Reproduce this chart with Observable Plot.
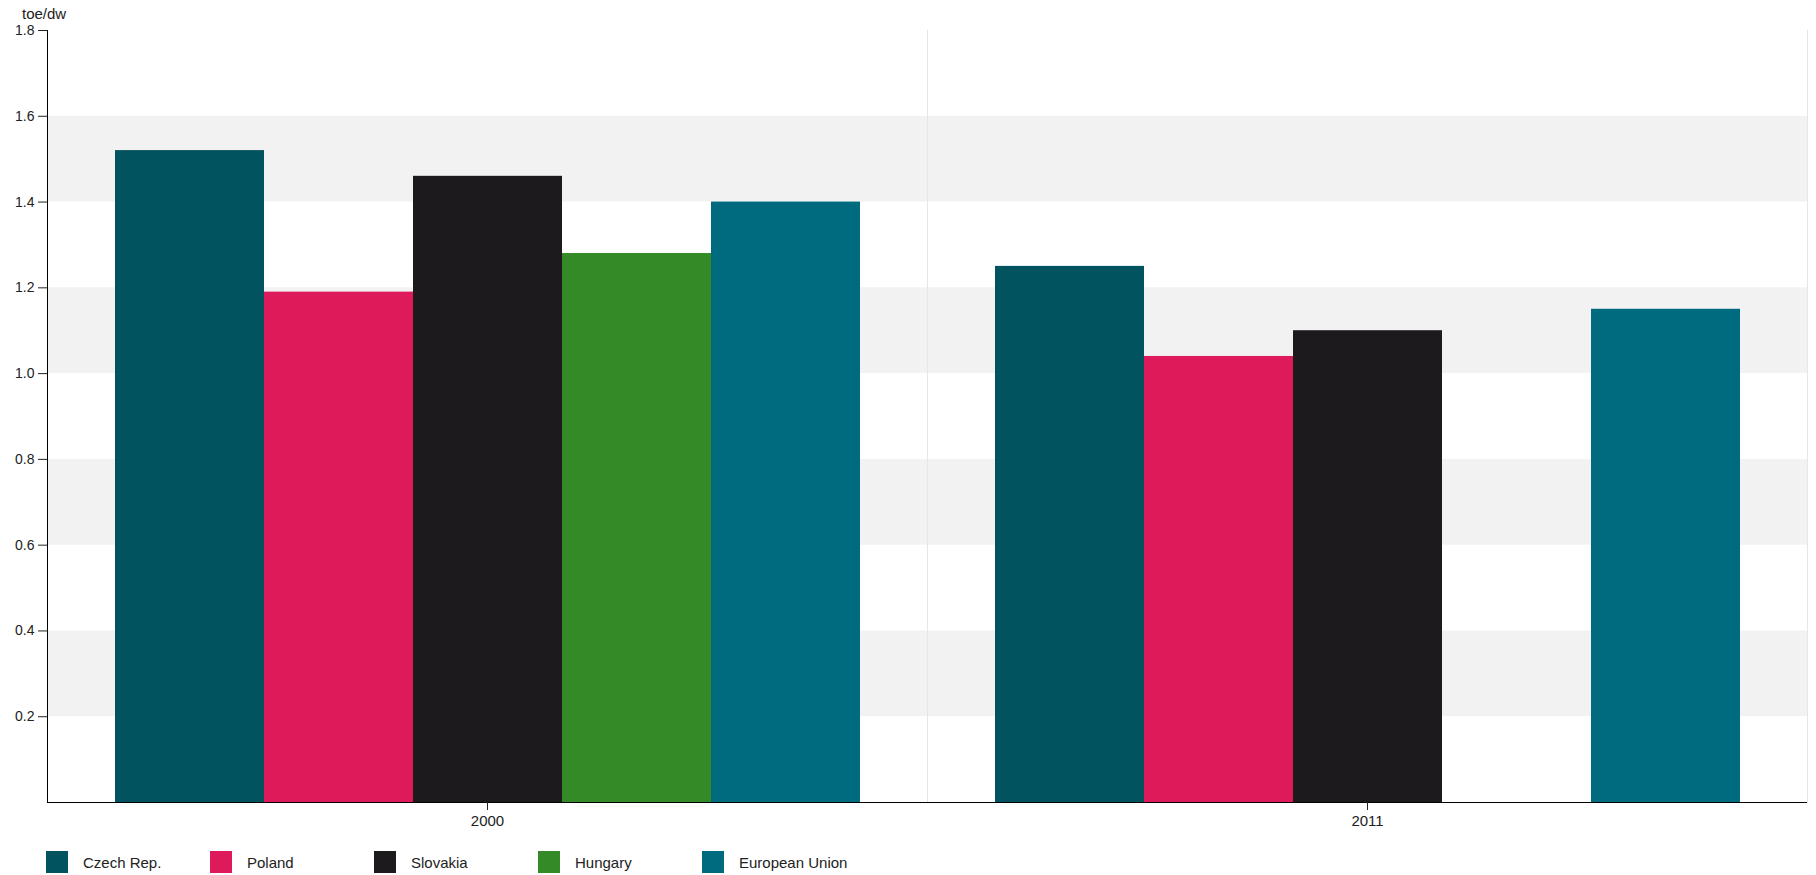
<!DOCTYPE html>
<html>
<head>
<meta charset="utf-8">
<script src="https://cdn.jsdelivr.net/npm/d3@7"></script>
<script src="https://cdn.jsdelivr.net/npm/@observablehq/plot@0.6"></script>
<style>
  html, body { margin: 0; padding: 0; background: #fff; }
  body { width: 1816px; height: 875px; position: relative; overflow: hidden; font-family: "Liberation Sans", Arial, sans-serif; color: #222; }
  #unit { position: absolute; left: 22px; top: 5px; font-size: 15px; color: #222; z-index: 2; }
  #chart { position: absolute; left: 0; top: 0; z-index: 1; }
  #legend { position: absolute; left: 46px; top: 851px; display: flex; z-index: 2; }
  .item { width: 164px; display: flex; align-items: center; font-size: 15px; color: #222; }
  .sw { width: 22px; height: 22px; margin-right: 15px; flex: none; }
</style>
</head>
<body>
<div id="unit">toe/dw</div>
<div id="chart"></div>
<div id="legend"></div>
<script>
// ---- data ----
const years = ["2000", "2011"];
const countries = ["Czech Rep.", "Poland", "Slovakia", "Hungary", "European Union"];
const colors = ["#01535f", "#de1a5a", "#1c1a1c", "#358a28", "#006b7e"];
const values2000 = [1.52, 1.19, 1.46, 1.28, 1.40];
const values2011 = [1.25, 1.04, 1.10, null, 1.15];
const yTicks = [0.2, 0.4, 0.6, 0.8, 1.0, 1.2, 1.4, 1.6, 1.8];
const shadedBands = [[0.2, 0.4], [0.6, 0.8], [1.0, 1.2], [1.4, 1.6]];

const rows = [];
countries.forEach((c, i) => {
  if (values2000[i] != null) rows.push({year: "2000", country: c, value: values2000[i]});
  if (values2011[i] != null) rows.push({year: "2011", country: c, value: values2011[i]});
});

const W = 1816, ML = 47, MR = 9;
const facetW = (W - ML - MR) / years.length;

const chart = Plot.plot({
  width: W,
  height: 840,
  marginTop: 30,
  marginBottom: 38,
  marginLeft: ML,
  marginRight: MR,
  style: {fontFamily: "'Liberation Sans', Arial, sans-serif", fontSize: "14px", color: "#222", background: "transparent"},
  fx: {domain: years, padding: 0},
  x: {domain: countries, paddingInner: 0, paddingOuter: 0.45, axis: null},
  y: {domain: [0, 1.8]},
  color: {domain: countries, range: colors},
  marks: [
    Plot.rectY(shadedBands, {y1: d => d[0], y2: d => d[1], fill: "#f2f2f2"}),
    Plot.frame({anchor: "right", stroke: "#e6e6e6"}),
    Plot.barY(rows, {fx: "year", x: "country", y: "value", fill: "country"}),
    Plot.rectY(["2000"], {fx: d => d, y1: 0, y2: 1.8, fill: "#000", insetRight: facetW - 1}),
    Plot.ruleY([0], {stroke: "#000"}),
    Plot.axisY({ticks: yTicks, tickFormat: d => d.toFixed(1), tickSize: 9, tickPadding: 4, label: null, fontSize: 14}),
    Plot.axisFx({anchor: "bottom", tickSize: 8, tickPadding: 5, label: null, fontSize: 15})
  ]
});
document.getElementById("chart").appendChild(chart);

// legend built from the chart's color scale
const cs = chart.scale("color");
const legend = document.getElementById("legend");
cs.domain.forEach((name, i) => {
  const item = document.createElement("div");
  item.className = "item";
  const sw = document.createElement("div");
  sw.className = "sw";
  sw.style.background = cs.range[i];
  const t = document.createElement("span");
  t.textContent = name;
  item.appendChild(sw);
  item.appendChild(t);
  legend.appendChild(item);
});
</script>
</body>
</html>
